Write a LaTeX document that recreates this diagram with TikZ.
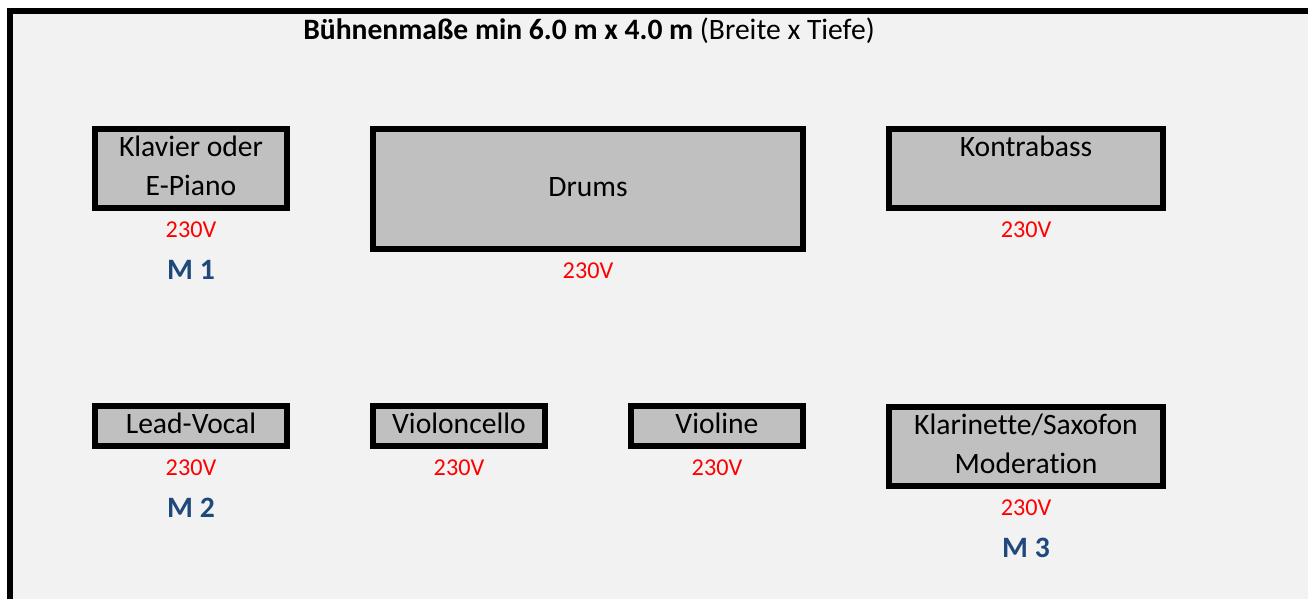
\documentclass[tikz,border=0pt]{standalone}
\usepackage{fontspec}
\setmainfont{Carlito}[Ligatures={NoCommon}]
\usepackage{tikz}
\usetikzlibrary{positioning}
\definecolor{stagebg}{HTML}{F2F2F2}
\definecolor{boxgray}{HTML}{C0C0C0}
\definecolor{micblue}{HTML}{1F497D}

\begin{document}
\begin{tikzpicture}[x=1pt,y=-1pt,node distance=11pt]
       \tikzstyle{instr}=[draw,line width=6pt,fill=boxgray,inner sep=0pt,align=center,font=\fontsize{29.6}{39}\selectfont]
       \tikzstyle{volt}=[red,inner sep=0pt,font=\fontsize{24.2}{28}\selectfont]
       \tikzstyle{mic}=[micblue,inner sep=0pt,font=\fontsize{29.6}{34}\selectfont\bfseries]

       \useasboundingbox (0,0) rectangle (1308,599);
       \fill[stagebg] (7,8) rectangle (1308,599);
       \draw[line width=6pt] (10,599) -- (10,11) -- (1308,11);

       \node[anchor=base,font=\fontsize{29.6}{34}\selectfont] (titel) at (589,40)
             {\textbf{Bühnenmaße min 6.0 m x 4.0 m} (Breite x Tiefe)};

       % obere Reihe
       \node[instr,minimum width=192pt,minimum height=79pt]  (klavier) at (191,168.5) {Klavier oder\strut\\E-Piano\strut};
       \node[instr,minimum width=430pt,minimum height=120pt] (drums)   at (588,189)   {Drums\strut};
       \node[instr,minimum width=274pt,minimum height=79pt]  (kontra)  at (1026,168.5) {Kontrabass\strut\\\strut};

       % untere Reihe
       \node[instr,minimum width=192pt,minimum height=40pt]  (vocal)   at (191,426)   {Lead-Vocal\strut};
       \node[instr,minimum width=172pt,minimum height=40pt]  (cello)   at (459,426)   {Violoncello\strut};
       \node[instr,minimum width=172pt,minimum height=40pt]  (violine) at (717,426)   {Violine\strut};
       \node[instr,minimum width=274pt,minimum height=79pt]  (klari)   at (1026,446.5) {Klarinette/Saxofon\strut\\Moderation\strut};

       \node[volt] (v_1) [below=of klavier] {230V};
       \node[volt] (v_2) [below=of drums]   {230V};
       \node[volt] (v_3) [below=of kontra]  {230V};
       \node[volt] (v_4) [below=of vocal]   {230V};
       \node[volt] (v_5) [below=of cello]   {230V};
       \node[volt] (v_6) [below=of violine] {230V};
       \node[volt] (v_7) [below=of klari]   {230V};

       \node[mic] (m_1) [below=22pt of v_1] {M 1};
       \node[mic] (m_2) [below=22pt of v_4] {M 2};
       \node[mic] (m_3) [below=22pt of v_7] {M 3};
     \end{tikzpicture}
\end{document}
